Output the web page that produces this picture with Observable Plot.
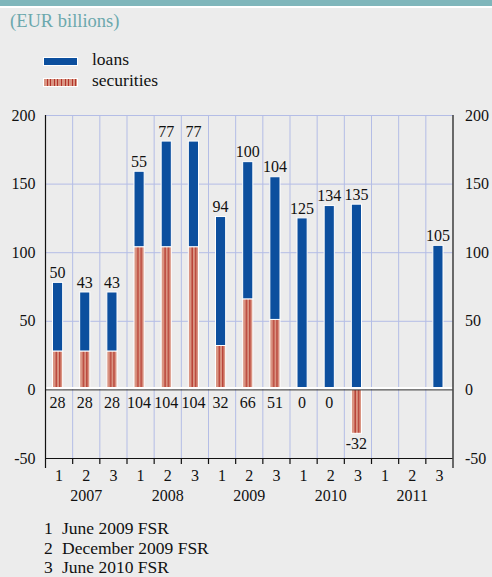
<!DOCTYPE html>
<html>
<head>
<meta charset="utf-8">
<script src="https://cdn.jsdelivr.net/npm/d3@7"></script>
<script src="https://cdn.jsdelivr.net/npm/@observablehq/plot@0.6"></script>
<style>
  html, body { margin: 0; padding: 0; background: #ececec; }
  #wrap { position: relative; width: 492px; height: 577px; overflow: hidden; background: #ececec; font-family: "Liberation Serif", "Times New Roman", Times, "DejaVu Serif", "Noto Serif", FreeSerif, serif; color: #111; }
  .abs { position: absolute; white-space: nowrap; line-height: 1; }
  #topbar { position: absolute; left: 0; top: 0; width: 492px; height: 6px; background: #7fb6bb; }
  #topline { position: absolute; left: 0; top: 6px; width: 492px; height: 1.5px; background: #ffffff; }
  #title { left: 10px; top: 12px; font-size: 18.5px; color: #6ba8ad; }
  .sw { position: absolute; left: 43px; width: 33px; height: 7px; border: 1px solid #fff; box-sizing: content-box; }
  #swLoans { top: 57px; background: #0c4f9e; }
  #swSec { top: 78px; background: repeating-linear-gradient(90deg, #d99482 0px, #d99482 2.6px, #b3342a 2.6px, #b3342a 3.6px); }
  .lg { font-size: 17.5px; left: 92px; }
  .fn { font-size: 17.5px; }
  #chart { position: absolute; left: 0; top: 90px; }
</style>
</head>
<body>
<div id="wrap">
  <div id="topbar"></div>
  <div id="topline"></div>
  <div id="title" class="abs">(EUR billions)</div>
  <div id="swLoans" class="sw"></div>
  <div class="abs lg" style="top:51px">loans</div>
  <div id="swSec" class="sw"></div>
  <div class="abs lg" style="top:72px">securities</div>
  <div id="chart"></div>
  <div class="abs fn" style="left:44px; top:520px">1</div>
  <div class="abs fn" style="left:62px; top:520px">June 2009 FSR</div>
  <div class="abs fn" style="left:44px; top:540px">2</div>
  <div class="abs fn" style="left:62px; top:540px">December 2009 FSR</div>
  <div class="abs fn" style="left:44px; top:559px">3</div>
  <div class="abs fn" style="left:62px; top:559px">June 2010 FSR</div>
</div>
<script>
const years = ["2007", "2008", "2009", "2010", "2011"];
const quarters = ["1", "2", "3"];
const loans = [50, 43, 43, 55, 77, 77, 94, 100, 104, 125, 134, 135, null, null, 105];
const securities = [28, 28, 28, 104, 104, 104, 32, 66, 51, 0, 0, -32, null, null, null];
const yTicks = [-50, 0, 50, 100, 150, 200];

const categories = years.flatMap(y => quarters.map(q => ({year: y, q})));
const data = categories.map((c, i) => ({
  i, year: c.year, q: c.q, loans: loans[i], sec: securities[i],
  base: Math.max(securities[i] ?? 0, 0)
}));
const n = categories.length;

const secBars = data.filter(d => d.sec != null && d.sec !== 0);
const loanBars = data.filter(d => d.loans != null);
const secLabels = data.filter(d => d.sec != null);
const yearData = years.map((y, k) => ({year: y, k}));

const blue = "#0c4f9e";
const grid = "#b4bde6";

const chart = Plot.plot({
  width: 492,
  height: 420,
  marginTop: 25,
  marginBottom: 52,
  marginLeft: 45,
  marginRight: 39.5,
  style: {background: "transparent", fontFamily: "'Liberation Serif', 'Times New Roman', Times, 'DejaVu Serif', 'Noto Serif', FreeSerif, serif", fontSize: "16px", color: "#111"},
  x: {type: "linear", domain: [0, n], axis: null},
  y: {domain: [-50, 200], axis: null},
  marks: [
    Plot.ruleY([50, 100, 150, 200], {stroke: grid, strokeWidth: 1}),
    Plot.ruleX(d3.range(1, n), {y1: -50, y2: 200, stroke: grid, strokeWidth: 1}),
    Plot.rectY(secBars, {x1: d => d.i, x2: d => d.i + 1, y1: 0, y2: "sec", insetLeft: 7.5, insetRight: 9.5, fill: "url(#secHatch)", stroke: "#fff", strokeWidth: 1}),
    Plot.rectY(loanBars, {x1: d => d.i, x2: d => d.i + 1, y1: "base", y2: d => d.base + d.loans, insetLeft: 7.5, insetRight: 9.5, fill: blue, stroke: "#fff", strokeWidth: 1}),
    Plot.ruleY([0], {stroke: "#fff", strokeWidth: 2, dy: -2}),
    Plot.ruleY([0], {stroke: "#333", strokeWidth: 1}),
    Plot.ruleY([-50], {stroke: "#111", strokeWidth: 1.2}),
    Plot.ruleX([0, n], {stroke: "#111", strokeWidth: 1.2, insetBottom: -10}),
    Plot.axisX({ticks: d3.range(1, n), tickSize: 6, tickFormat: () => "", stroke: "#111", strokeWidth: 1.2, label: null}),
    Plot.text(loanBars, {x: d => d.i + 0.5, y: d => d.base + d.loans, text: d => String(d.loans), dy: -10, dx: -1.5, fill: "#111"}),
    Plot.text(secLabels.filter(d => d.sec >= 0), {x: d => d.i + 0.5, y: 0, text: d => String(d.sec), dy: 13, dx: -1.5, fill: "#111"}),
    Plot.text(secLabels.filter(d => d.sec < 0), {x: d => d.i + 0.5, y: "sec", text: d => String(d.sec), dy: 10, dx: -1.5, fill: "#111"}),
    Plot.text(data, {x: d => d.i + 0.5, text: "q", frameAnchor: "bottom", dy: 22, fill: "#111"}),
    Plot.text(yearData, {x: d => d.k * 3 + 1.5, text: "year", frameAnchor: "bottom", dy: 42, fill: "#111"}),
    Plot.axisY({anchor: "left", ticks: yTicks, tickSize: 0, tickPadding: 10, tickFormat: d => String(d), label: null, fill: "#111"}),
    Plot.axisY({anchor: "right", ticks: yTicks, tickSize: 0, tickPadding: 12, tickFormat: d => String(d), label: null, fill: "#111"})
  ]
});

const ns = "http://www.w3.org/2000/svg";
const defs = document.createElementNS(ns, "defs");
defs.innerHTML = `<pattern id="secHatch" patternUnits="objectBoundingBox" patternContentUnits="objectBoundingBox" width="1" height="1">
  <rect x="0" y="0" width="1" height="1" fill="#d99482"></rect>
  <rect x="0.32" y="0" width="0.12" height="1" fill="#b3342a"></rect>
  <rect x="0.65" y="0" width="0.12" height="1" fill="#b3342a"></rect>
</pattern>`;
chart.insertBefore(defs, chart.firstChild);
document.getElementById("chart").appendChild(chart);
</script>
</body>
</html>
